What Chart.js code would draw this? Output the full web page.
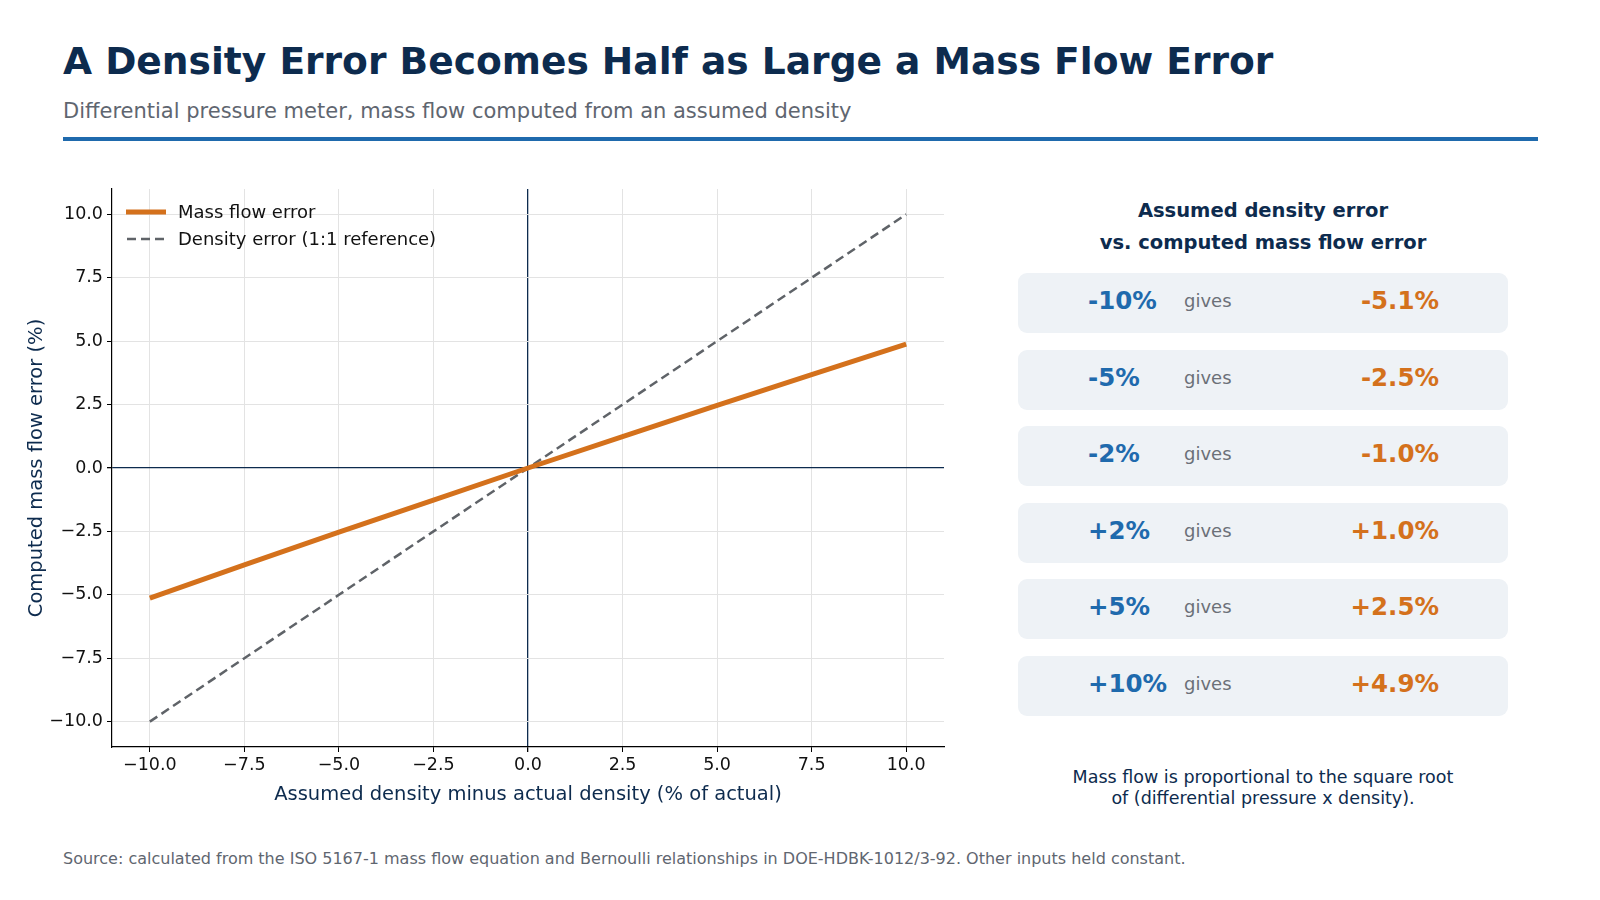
<!DOCTYPE html>
<html>
<head>
<meta charset="utf-8">
<script src="https://cdn.jsdelivr.net/npm/chart.js@4.4.1/dist/chart.umd.min.js"></script>
<style>
  html, body { margin: 0; padding: 0; background: #fff; }
  body { width: 1600px; height: 900px; position: relative; overflow: hidden; font-family: "DejaVu Sans", sans-serif; }
  .title { position: absolute; left: 63px; top: 39px; font-size: 37.6px; font-weight: bold; color: #0d2b4e; white-space: nowrap; }
  .subtitle { position: absolute; left: 63px; top: 99px; font-size: 21px; color: #5f6670; white-space: nowrap; }
  .rule { position: absolute; left: 63px; top: 137px; width: 1475px; height: 4px; background: #1f6aad; }
  #wrap { position: absolute; left: 0; top: 170px; width: 960px; height: 640px; }
  .legend { position: absolute; left: 126px; top: 198px; font-size: 18px; color: #111; }
  .legend .row { height: 27px; display: flex; align-items: center; }
  .legend svg { margin-right: 12px; }
  .panel-head { position: absolute; left: 1018px; width: 490px; top: 195px; text-align: center; font-size: 19.5px; font-weight: bold; color: #0d2b4e; line-height: 32px; }
  .card { position: absolute; left: 1018px; width: 490px; height: 60px; background: #eef2f6; border-radius: 9px; }
  .card span { position: absolute; top: 50%; transform: translateY(-50%); margin-top: -3px; white-space: nowrap; }
  .card .a { left: 70px; font-size: 24.5px; font-weight: bold; color: #1f6aad; }
  .card .g { left: 166px; font-size: 18px; color: #6b7078; }
  .card .b { right: 69px; font-size: 24.5px; font-weight: bold; color: #d4711c; }
  .note { position: absolute; left: 1000px; width: 526px; top: 767px; text-align: center; font-size: 17.5px; color: #0d2b4e; line-height: 21px; }
  .source { position: absolute; left: 63px; top: 849px; font-size: 16px; color: #5f6670; white-space: nowrap; }
</style>
</head>
<body>
<div class="title">A Density Error Becomes Half as Large a Mass Flow Error</div>
<div class="subtitle">Differential pressure meter, mass flow computed from an assumed density</div>
<div class="rule"></div>

<div id="wrap"><canvas id="chart" width="960" height="640"></canvas></div>

<div class="legend">
  <div class="row"><svg width="40" height="8"><line x1="0" y1="4" x2="40" y2="4" stroke="#d4711c" stroke-width="5"/></svg>Mass flow error</div>
  <div class="row"><svg width="40" height="8"><line x1="1" y1="4" x2="40" y2="4" stroke="#5f6368" stroke-width="2.5" stroke-dasharray="9 5"/></svg>Density error (1:1 reference)</div>
</div>

<div class="panel-head">Assumed density error<br>vs. computed mass flow error</div>
<div id="cards"></div>
<div class="note">Mass flow is proportional to the square root<br>of (differential pressure x density).</div>
<div class="source">Source: calculated from the ISO 5167-1 mass flow equation and Bernoulli relationships in DOE-HDBK-1012/3-92. Other inputs held constant.</div>

<script>
// values
const densityErr = [-10, -7.5, -5, -2.5, 0, 2.5, 5, 7.5, 10];
const massFlowErr = [-5.13, -3.82, -2.53, -1.27, 0, 1.24, 2.47, 3.68, 4.88];
const referenceErr = [-10, -7.5, -5, -2.5, 0, 2.5, 5, 7.5, 10];
const tickValues = [-10, -7.5, -5, -2.5, 0, 2.5, 5, 7.5, 10];

const tableDensity = ['-10%', '-5%', '-2%', '+2%', '+5%', '+10%'];
const tableMassFlow = ['-5.1%', '-2.5%', '-1.0%', '+1.0%', '+2.5%', '+4.9%'];

const cards = document.getElementById('cards');
tableDensity.forEach((d, i) => {
  const c = document.createElement('div');
  c.className = 'card';
  c.style.top = (273 + i * 76.6) + 'px';
  c.innerHTML = '<span class="a">' + d + '</span><span class="g">gives</span><span class="b">' + tableMassFlow[i] + '</span>';
  cards.appendChild(c);
});

const fmt = v => v.toFixed(1).replace('-', '\u2212');
const navy = '#0d2b4e';
const setTicks = axis => { axis.ticks = tickValues.map(v => ({ value: v })); };
const gridOpts = {
  color: c => (c.tick && c.tick.value === 0 ? navy : '#e3e3e3'),
  lineWidth: c => (c.tick && c.tick.value === 0 ? 1.3 : 1),
  tickColor: '#000',
  tickLength: 5,
};

new Chart(document.getElementById('chart'), {
  type: 'line',
  data: {
    datasets: [
      {
        label: 'Mass flow error',
        data: densityErr.map((x, i) => ({ x, y: massFlowErr[i] })),
        borderColor: '#d4711c',
        borderWidth: 5,
        pointRadius: 0,
        order: 1,
      },
      {
        label: 'Density error (1:1 reference)',
        data: densityErr.map((x, i) => ({ x, y: referenceErr[i] })),
        borderColor: '#5f6368',
        borderWidth: 2.5,
        borderDash: [9, 5],
        pointRadius: 0,
        order: 2,
      },
    ],
  },
  options: {
    responsive: false,
    animation: false,
    layout: { padding: { top: 19, right: 16, left: 21, bottom: 3 } },
    plugins: { legend: { display: false }, tooltip: { enabled: false } },
    scales: {
      x: {
        type: 'linear',
        min: -11,
        max: 11,
        afterBuildTicks: setTicks,
        afterFit: s => { s.height = 60; },
        border: { color: '#000', width: 1.2 },
        grid: gridOpts,
        ticks: { callback: fmt, color: '#111', font: { family: 'DejaVu Sans', size: 17.5 }, maxRotation: 0, padding: 3 },
        title: { display: true, text: 'Assumed density minus actual density (% of actual)', color: navy, font: { family: 'DejaVu Sans', size: 19.5 }, padding: { top: -3, bottom: 0 } },
      },
      y: {
        type: 'linear',
        min: -11,
        max: 11,
        afterBuildTicks: setTicks,
        afterFit: s => { s.width = 91; },
        border: { color: '#000', width: 1.2 },
        grid: gridOpts,
        ticks: { callback: fmt, color: '#111', font: { family: 'DejaVu Sans', size: 17.5 }, padding: 4 },
        title: { display: true, text: 'Computed mass flow error (%)', color: navy, font: { family: 'DejaVu Sans', size: 19.5 }, padding: { bottom: 0 } },
      },
    },
  },
});
</script>
</body>
</html>
